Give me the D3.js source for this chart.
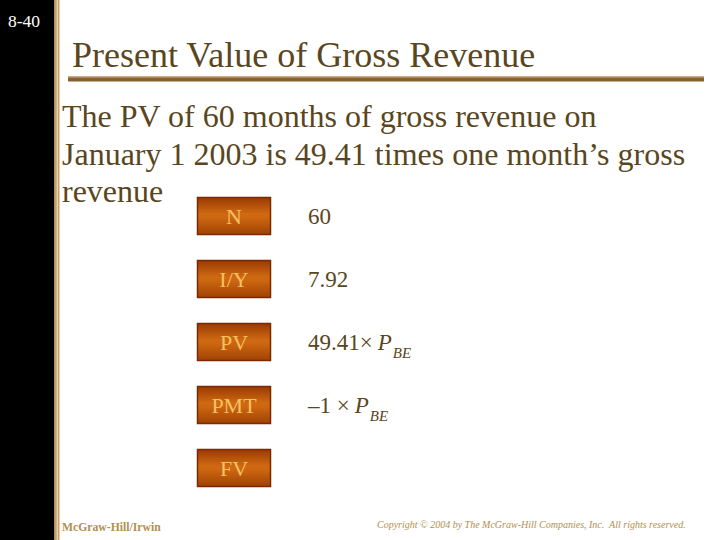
<!DOCTYPE html>
<html><head><meta charset="utf-8">
<script src="https://cdn.jsdelivr.net/npm/d3@7"></script>
<style>body{margin:0;background:#fff}svg{display:block}</style>
</head><body>
<script>
const slideNumber = "8-40";
const title = "Present Value of Gross Revenue";
const bodyLines = ["The PV of 60 months of gross revenue on", "January 1 2003 is 49.41 times one month\u2019s gross", "revenue"];
const keys = ["N", "I/Y", "PV", "PMT", "FV"];
const values = ["60", "7.92", "49.41\u00d7", "\u20131 \u00d7", ""];
const hasPBE = [false, false, true, true, false];
const footerLeft = "McGraw-Hill/Irwin";
const footerRight = "Copyright \u00a9 2004 by The McGraw-Hill Companies, Inc.  All rights reserved.";

const W = 720, H = 540;
const serif = "'Liberation Serif','Times New Roman',serif";
const textCol = "#594620";
const gold = "#c9a062";

const svg = d3.select("body").append("svg").attr("width", W).attr("height", H);
const defs = svg.append("defs");
const g = defs.append("linearGradient").attr("id", "btn").attr("x1", 0).attr("y1", 0).attr("x2", 0).attr("y2", 1);
g.append("stop").attr("offset", "0%").attr("stop-color", "#9a3a02");
g.append("stop").attr("offset", "45%").attr("stop-color", "#cf6a12");
g.append("stop").attr("offset", "55%").attr("stop-color", "#cc6610");
g.append("stop").attr("offset", "100%").attr("stop-color", "#a04204");

// left black band and gold stripes
svg.append("rect").attr("x", 0).attr("y", 0).attr("width", 54.5).attr("height", H).attr("fill", "#000");
svg.append("rect").attr("x", 54.5).attr("y", 0).attr("width", 2.3).attr("height", H).attr("fill", gold);
svg.append("rect").attr("x", 57.5).attr("y", 0).attr("width", 2).attr("height", H).attr("fill", gold);

svg.append("text").attr("x", 8).attr("y", 27).attr("font-family", serif).attr("font-size", 17.5)
  .attr("fill", "#fff").text(slideNumber);

// title
svg.append("text").attr("x", 72).attr("y", 67).attr("font-family", serif).attr("font-size", 36)
  .attr("fill", textCol).text(title);
svg.append("rect").attr("x", 68).attr("y", 76.5).attr("width", 636).attr("height", 5).attr("fill", "#84602f");
svg.append("rect").attr("x", 68).attr("y", 77).attr("width", 636).attr("height", 1.2).attr("fill", "#b08752");

// body text
svg.selectAll("text.body").data(bodyLines).join("text").attr("class", "body")
  .attr("x", 62).attr("y", (d, i) => 127 + i * 37.5)
  .attr("font-family", serif).attr("font-size", 32).attr("fill", textCol).text(d => d);

// calculator keys
const y = d3.scaleBand().domain(keys).range([197, 487]).paddingInner(25 / 63).paddingOuter(0);
const rows = svg.selectAll("g.row").data(keys.map((k, i) => ({k, v: values[i], p: hasPBE[i]})))
  .join("g").attr("class", "row").attr("transform", d => `translate(0,${y(d.k)})`);
const bh = y.bandwidth();
rows.append("rect").attr("x", 197.5).attr("y", 0.5).attr("width", 73).attr("height", bh - 1)
  .attr("fill", "url(#btn)").attr("stroke", "#7a2a02").attr("stroke-width", 1.5);
rows.append("text").attr("x", 234).attr("y", bh / 2 + 7.5).attr("text-anchor", "middle")
  .attr("font-family", serif).attr("font-size", 22).attr("fill", "#f7c060").text(d => d.k);
const vt = rows.append("text").attr("x", 308).attr("y", bh / 2 + 8)
  .attr("font-family", serif).attr("font-size", 23).attr("fill", textCol);
vt.append("tspan").text(d => d.v);
vt.filter(d => d.p).append("tspan").attr("dx", 5).attr("font-style", "italic").text("P");
vt.filter(d => d.p).append("tspan").attr("dx", 1).attr("dy", 8).attr("font-style", "italic").attr("font-size", 15).text("BE");

// footer
svg.append("text").attr("x", 62).attr("y", 531).attr("font-family", serif).attr("font-size", 11.7)
  .attr("font-weight", "bold").attr("fill", "#b09050").text(footerLeft);
svg.append("text").attr("x", 377).attr("y", 528).attr("font-family", serif).attr("font-size", 10)
  .attr("font-style", "italic").attr("fill", "#b09050").style("white-space", "pre").text(footerRight);
</script>
</body></html>
